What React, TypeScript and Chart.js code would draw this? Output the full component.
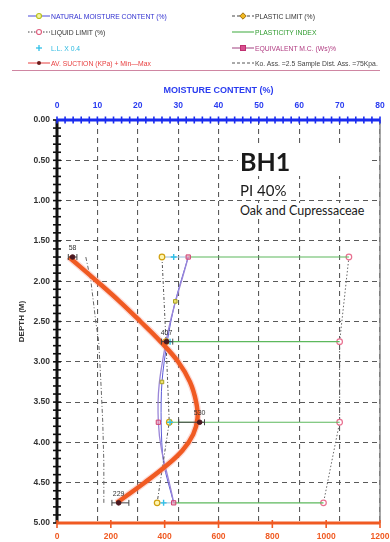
import React, { useEffect, useRef } from 'react';
import { Chart, registerables } from 'chart.js';

Chart.register(...registerables);

// ---------------- data ----------------
const moistureTicks = [0, 10, 20, 30, 40, 50, 60, 70, 80];
const depthTicks = [0, 0.5, 1, 1.5, 2, 2.5, 3, 3.5, 4, 4.5, 5];
const suctionTicks = [0, 200, 400, 600, 800, 1000, 1200];

const sampleDepths = [1.7, 2.75, 3.75, 4.75];
const plasticLimit = [26.0, 27.0, 27.8, 24.8];
const liquidLimit = [72.3, 70.0, 70.0, 66.0];
const llTimes04 = [28.9, 28.0, 28.0, 26.4];
const piStart = [32.5, 27.3, 27.8, 28.9];
const equivalentMC = [32.5, 27.0, 25.1, 28.9];

const nmcDepths = [1.7, 2.25, 2.75, 3.25, 3.75, 4.25, 4.75];
const nmcValues = [32.5, 29.3, 27.3, 26.0, 25.8, 26.4, 28.9];
const nmcTestDepths = [2.25, 3.25];
const nmcTestValues = [29.3, 26.0];

const suctionAvg = [58, 407, 530, 229];
const suctionMin = [42, 388, 452, 204];
const suctionMax = [74, 430, 548, 267];

const suctionCurveDepths = [1.7, 2.0, 2.25, 2.5, 2.75, 3.0, 3.25, 3.5, 3.7, 3.9, 4.1, 4.3, 4.5, 4.75];
const suctionCurveKpa = [44, 148, 232, 310, 385, 450, 494, 517, 522, 506, 466, 402, 325, 222];

const koDepths = [1.7, 2.0, 2.5, 2.75, 3.25, 3.75, 4.25, 4.75];
const koKpa = [107, 126, 144, 155, 163, 170, 174, 174];

// ---------------- helpers ----------------
const pts = (xs: number[], ys: number[]) => xs.map((x, i) => ({ x, y: ys[i] }));
const FONT = '"Liberation Sans", Arial, sans-serif';

const decorPlugin = {
  id: 'decor',
  afterDraw(chart: any) {
    const { ctx, chartArea, scales } = chart;
    const { left, right, top, bottom } = chartArea;
    const sx = scales.x;
    const sy = scales.y;
    const s2 = scales.x2;
    const seg = (x1: number, y1: number, x2: number, y2: number) => {
      ctx.beginPath();
      ctx.moveTo(x1, y1);
      ctx.lineTo(x2, y2);
      ctx.stroke();
    };
    ctx.save();
    // right border
    ctx.strokeStyle = '#8a8a8a';
    ctx.lineWidth = 1.5;
    seg(right, top, right, bottom);
    // left depth axis
    ctx.strokeStyle = '#111';
    ctx.lineWidth = 3;
    seg(left, top, left, bottom);
    ctx.lineWidth = 1.6;
    for (let d = 0; d <= 50; d++) {
      const y = sy.getPixelForValue(d / 10);
      seg(left - 4, y, left + 4, y);
    }
    // top moisture axis
    ctx.strokeStyle = '#1a2cf0';
    ctx.lineWidth = 3;
    seg(left, top, right, top);
    ctx.lineWidth = 1.6;
    for (let m = 0; m <= 80; m += 2) {
      const x = sx.getPixelForValue(m);
      seg(x, top - 3.5, x, top + 3.5);
    }
    // bottom suction axis
    ctx.strokeStyle = '#f05a22';
    ctx.lineWidth = 3;
    seg(left, bottom, right, bottom);
    ctx.lineWidth = 1.6;
    suctionTicks.forEach((v) => {
      const x = s2.getPixelForValue(v);
      seg(x, bottom - 3, x, bottom + 5);
    });
    // suction value labels
    ctx.fillStyle = '#333';
    ctx.font = '7px ' + FONT;
    ctx.textAlign = 'center';
    ctx.textBaseline = 'alphabetic';
    suctionAvg.forEach((v, i) => {
      const x = s2.getPixelForValue(v);
      const y = sy.getPixelForValue(sampleDepths[i]);
      ctx.fillText(String(v), x, y - 7);
    });
    ctx.restore();
  },
};

function Sample({ line, marker, mColor, mFill }: { line?: { color: string; dash?: string; width?: number }; marker?: string; mColor?: string; mFill?: string }) {
  return (
    <svg width={22} height={8} style={{ display: 'block' }}>
      {line && (
        <line x1={0} y1={4} x2={22} y2={4} stroke={line.color} strokeWidth={line.width || 1} strokeDasharray={line.dash} />
      )}
      {marker === 'circle' && <circle cx={11} cy={4} r={2.5} stroke={mColor} strokeWidth={1.2} fill={mFill || '#fff'} />}
      {marker === 'diamond' && <polygon points="11,0.8 14.2,4 11,7.2 7.8,4" stroke={mColor} strokeWidth={1} fill={mFill} />}
      {marker === 'square' && <rect x={8.5} y={1.5} width={5} height={5} stroke={mColor} strokeWidth={1} fill={mFill} />}
      {marker === 'dot' && <circle cx={11} cy={4} r={2} fill={mColor} />}
      {marker === 'plus' && (
        <g stroke={mColor} strokeWidth={1.3}>
          <line x1={8} y1={4} x2={14} y2={4} />
          <line x1={11} y1={1} x2={11} y2={7} />
        </g>
      )}
    </svg>
  );
}

function LegendRow({ x, y, text, color, children }: { x: number; y: number; text: string; color: string; children: React.ReactNode }) {
  return (
    <div style={{ position: 'absolute', left: x, top: y - 5, height: 10, display: 'flex', alignItems: 'center', whiteSpace: 'nowrap' }}>
      {children}
      <span style={{ marginLeft: 1, font: '6.8px ' + FONT, color }}>{text}</span>
    </div>
  );
}

export default function App() {
  const ref = useRef<HTMLCanvasElement | null>(null);

  useEffect(() => {
    if (!ref.current) return;
    const datasets: any[] = [];

    // suction average markers
    datasets.push({
      label: 'suction',
      xAxisID: 'x2',
      yAxisID: 'y',
      data: pts(suctionAvg, sampleDepths),
      showLine: false,
      pointRadius: 2.3,
      pointBackgroundColor: '#4a1820',
      pointBorderColor: '#4a1820',
    });
    // min-max bars
    sampleDepths.forEach((d, i) => {
      datasets.push({
        label: 'minmax' + i,
        xAxisID: 'x2',
        yAxisID: 'y',
        data: [
          { x: suctionMin[i], y: d },
          { x: suctionMax[i], y: d },
        ],
        showLine: true,
        borderColor: '#444',
        borderWidth: 1,
        pointStyle: 'line',
        rotation: 90,
        pointRadius: 3,
        pointBorderColor: '#444',
        pointBorderWidth: 1,
      });
    });
    // fitted suction curve
    datasets.push({
      label: 'curve',
      xAxisID: 'x2',
      yAxisID: 'y',
      data: pts(suctionCurveKpa, suctionCurveDepths),
      showLine: true,
      borderColor: '#f05a22',
      borderWidth: 4.5,
      tension: 0.4,
      pointRadius: 0,
    });
    // pale halo along the curve
    datasets.push({
      label: 'halo',
      xAxisID: 'x2',
      yAxisID: 'y',
      data: pts(suctionCurveKpa, suctionCurveDepths),
      showLine: true,
      borderColor: 'rgba(245,150,140,0.35)',
      borderWidth: 7,
      tension: 0.4,
      pointRadius: 0,
    });
    // Ko line
    datasets.push({
      label: 'ko',
      xAxisID: 'x2',
      yAxisID: 'y',
      data: pts(koKpa, koDepths),
      showLine: true,
      borderColor: '#666',
      borderWidth: 1,
      borderDash: [4, 2, 1, 2],
      pointRadius: 0,
    });
    // LL x 0.4
    datasets.push({
      label: 'll04',
      xAxisID: 'x',
      yAxisID: 'y',
      data: pts(llTimes04, sampleDepths),
      showLine: false,
      pointStyle: 'cross',
      pointRadius: 3,
      pointBorderColor: '#30c0e8',
      pointBorderWidth: 1.4,
    });
    // NMC test markers
    datasets.push({
      label: 'nmcm',
      xAxisID: 'x',
      yAxisID: 'y',
      data: pts(nmcTestValues, nmcTestDepths),
      showLine: false,
      pointStyle: 'rect',
      pointRadius: 2.5,
      pointBackgroundColor: '#eee070',
      pointBorderColor: '#a8a020',
      pointBorderWidth: 1,
    });
    // PL
    datasets.push({
      label: 'pl',
      xAxisID: 'x',
      yAxisID: 'y',
      data: pts(plasticLimit, sampleDepths),
      showLine: true,
      borderColor: '#555',
      borderWidth: 1,
      borderDash: [3, 2, 1, 2],
      pointRadius: 2.8,
      pointBackgroundColor: '#fff6b0',
      pointBorderColor: '#d0a010',
      pointBorderWidth: 1.2,
    });
    // EMC
    datasets.push({
      label: 'emc',
      xAxisID: 'x',
      yAxisID: 'y',
      data: pts(equivalentMC, sampleDepths),
      showLine: true,
      borderColor: '#9a86d8',
      borderWidth: 1.3,
      tension: 0.4,
      pointStyle: 'rect',
      pointRadius: 3,
      pointBackgroundColor: 'rgba(240,150,180,0.6)',
      pointBorderColor: '#d04070',
      pointBorderWidth: 1,
    });
    // NMC line
    datasets.push({
      label: 'nmc',
      xAxisID: 'x',
      yAxisID: 'y',
      data: pts(nmcValues, nmcDepths),
      showLine: true,
      borderColor: '#5a5ad8',
      borderWidth: 1,
      tension: 0.3,
      pointRadius: 0,
    });
    // PI lines
    sampleDepths.forEach((d, i) => {
      datasets.push({
        label: 'pi' + i,
        xAxisID: 'x',
        yAxisID: 'y',
        data: [
          { x: piStart[i], y: d },
          { x: liquidLimit[i], y: d },
        ],
        showLine: true,
        borderColor: '#5cb85c',
        borderWidth: 1.2,
        pointRadius: 0,
      });
      datasets.push({
        label: 'pil' + i,
        xAxisID: 'x',
        yAxisID: 'y',
        data: [
          { x: plasticLimit[i], y: d },
          { x: piStart[i], y: d },
        ],
        showLine: true,
        borderColor: '#a8c8e0',
        borderWidth: 1.2,
        pointRadius: 0,
      });
    });
    // LL
    datasets.push({
      label: 'll',
      xAxisID: 'x',
      yAxisID: 'y',
      data: pts(liquidLimit, sampleDepths),
      showLine: true,
      borderColor: '#666',
      borderWidth: 1,
      borderDash: [1.5, 2],
      pointRadius: 2.8,
      pointBackgroundColor: '#fff',
      pointBorderColor: '#e87090',
      pointBorderWidth: 1.2,
    });

    const tickFont = { size: 8.5, weight: 'bold' as const, family: FONT };
    const noSidePad = (s: any) => {
      s.paddingLeft = 0;
      s.paddingRight = 0;
    };

    const chart = new Chart(ref.current, {
      type: 'scatter',
      data: { datasets },
      options: {
        animation: false,
        responsive: false,
        maintainAspectRatio: false,
        layout: { padding: { top: 78, right: 10, left: 0, bottom: 0 } },
        plugins: { legend: { display: false }, tooltip: { enabled: false } },
        scales: {
          x: {
            type: 'linear',
            position: 'top',
            min: 0,
            max: 80,
            afterBuildTicks: (s: any) => {
              s.ticks = moistureTicks.map((v) => ({ value: v }));
            },
            ticks: { color: '#2a3cf0', font: tickFont, padding: 9, maxRotation: 0, callback: (v: any) => String(v) },
            grid: { color: '#5a5a5a', lineWidth: 1.1, drawTicks: false },
            border: { display: false, dash: [5, 4] },
            title: {
              display: true,
              text: 'MOISTURE CONTENT (%)',
              color: '#2a3cf0',
              font: { size: 9, weight: 'bold', family: FONT },
              padding: { top: 7.6, bottom: 0 },
            },
            afterFit: (s: any) => {
              s.height = 42;
              noSidePad(s);
            },
          },
          x2: {
            type: 'linear',
            position: 'bottom',
            min: 0,
            max: 1200,
            afterBuildTicks: (s: any) => {
              s.ticks = suctionTicks.map((v) => ({ value: v }));
            },
            ticks: { color: '#f05a22', font: tickFont, padding: 9, maxRotation: 0, callback: (v: any) => String(v) },
            grid: { display: false, drawTicks: false },
            border: { display: false },
            afterFit: (s: any) => {
              s.height = 19;
              noSidePad(s);
            },
          },
          y: {
            type: 'linear',
            position: 'left',
            reverse: true,
            min: 0,
            max: 5,
            afterBuildTicks: (s: any) => {
              s.ticks = depthTicks.map((v) => ({ value: v }));
            },
            ticks: {
              color: '#333',
              font: tickFont,
              padding: 7,
              callback: (v: any) => Number(v).toFixed(2),
            },
            grid: { color: '#5a5a5a', lineWidth: 1.1, drawTicks: false },
            border: { display: false, dash: [5, 4] },
            title: {
              display: true,
              text: 'DEPTH (M)',
              color: '#333',
              font: { size: 8, weight: 'bold', family: FONT },
              padding: { top: 17, bottom: 0 },
            },
            afterFit: (s: any) => {
              s.width = 57;
            },
          },
        },
      },
      plugins: [decorPlugin],
    });
    return () => chart.destroy();
  }, []);

  const lx = 28;
  const rx = 232;
  const box: React.CSSProperties = { position: 'absolute', background: '#fff', whiteSpace: 'nowrap', color: '#1a1a1a' };
  return (
    <div style={{ position: 'fixed', left: 0, top: 0, width: 390, height: 542, background: '#fff', overflow: 'hidden' }}>
      <canvas ref={ref} width={390} height={542} style={{ position: 'absolute', left: 0, top: 0, display: 'block' }} />
      <div style={{ position: 'absolute', left: 0, top: 0, width: 390, height: 542, pointerEvents: 'none' }}>
        <LegendRow x={lx} y={16} text="NATURAL MOISTURE CONTENT (%)" color="#3030d0">
          <Sample line={{ color: '#4a4ad8' }} marker="circle" mColor="#b8c020" mFill="#f4f4a0" />
        </LegendRow>
        <LegendRow x={lx} y={32} text="LIQUID LIMIT (%)" color="#333">
          <Sample line={{ color: '#444', dash: '1.5 1.5' }} marker="circle" mColor="#e06080" />
        </LegendRow>
        <LegendRow x={lx} y={48} text="L.L. X 0.4" color="#28b8e0">
          <Sample marker="plus" mColor="#30c0e8" />
        </LegendRow>
        <LegendRow x={lx} y={63} text="AV. SUCTION (KPa) + Min—Max" color="#e84040">
          <Sample line={{ color: '#e84040' }} marker="dot" mColor="#6a1a1a" />
        </LegendRow>
        <LegendRow x={rx} y={16} text="PLASTIC LIMIT (%)" color="#333">
          <Sample line={{ color: '#444', dash: '3 2' }} marker="diamond" mColor="#a07010" mFill="#f0b820" />
        </LegendRow>
        <LegendRow x={rx} y={32} text="PLASTICITY INDEX" color="#2e9b2e">
          <Sample line={{ color: '#5cb85c', width: 1.2 }} />
        </LegendRow>
        <LegendRow x={rx} y={48} text="EQUIVALENT M.C. (Ws)%" color="#b03a80">
          <Sample line={{ color: '#a04080' }} marker="square" mColor="#c03070" mFill="#d85090" />
        </LegendRow>
        <LegendRow x={rx} y={63} text="Ko.  Ass. =2.5  Sample Dist. Ass. =75Kpa." color="#444">
          <Sample line={{ color: '#555', dash: '3 2' }} />
        </LegendRow>
        <div style={{ position: 'absolute', left: 12, top: 69.5, width: 368, height: 1.5, background: '#cf86a2' }} />
        <div style={{ ...box, left: 238, top: 147, width: 130, height: 29, paddingLeft: 2, font: 'bold 25px Lato, sans-serif', lineHeight: '29px' }}>BH1</div>
        <div style={{ ...box, left: 238, top: 182, height: 16, paddingLeft: 2, paddingRight: 3, font: '15px Lato, sans-serif', lineHeight: '16px' }}>PI 40%</div>
        <div style={{ ...box, left: 238, top: 203, width: 130, height: 16, paddingLeft: 2, font: '12.5px Lato, sans-serif', lineHeight: '16px' }}>Oak and Cupressaceae</div>
      </div>
    </div>
  );
}
